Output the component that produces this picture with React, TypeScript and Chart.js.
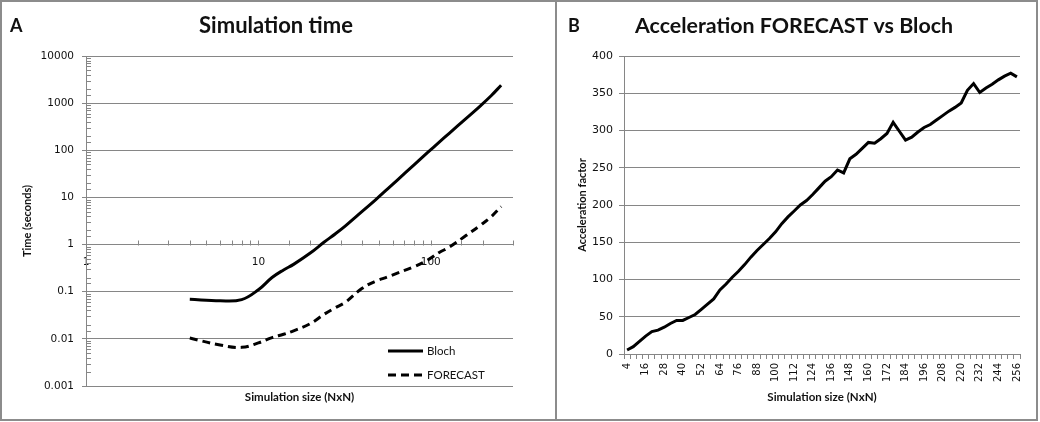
import React, { useEffect, useRef } from "react";
import { Chart, registerables } from "chart.js";

Chart.register(...registerables);

// ---------------- data ----------------
const simSizes = [4, 6, 8, 10, 12, 14, 16, 20, 24, 28, 32, 40, 48, 56, 64, 80, 96, 112, 128, 160, 192, 224, 256];
const blochSeconds = [0.069, 0.064, 0.068, 0.11, 0.2, 0.29, 0.38, 0.66, 1.12, 1.7, 2.5, 5.05, 9.0, 15, 23.4, 49, 90, 149, 229, 471, 848, 1436, 2400];
const forecastSeconds = [0.0104, 0.0074, 0.0066, 0.0082, 0.0106, 0.0125, 0.0148, 0.021, 0.033, 0.046, 0.06, 0.118, 0.168, 0.205, 0.248, 0.34, 0.47, 0.68, 0.88, 1.55, 2.5, 3.9, 6.4];
const timeTickLabels = ["0.001", "0.01", "0.1", "1", "10", "100", "1000", "10000"];
const sizeTickLabels = ["1", "10", "100"];

const accelSizes = [
  "4", "8", "12", "16", "20", "24", "28", "32", "36", "40", "44", "48", "52", "56", "60", "64",
  "68", "72", "76", "80", "84", "88", "92", "96", "100", "104", "108", "112", "116", "120", "124", "128",
  "132", "136", "140", "144", "148", "152", "156", "160", "164", "168", "172", "176", "180", "184", "188", "192",
  "196", "200", "204", "208", "212", "216", "220", "224", "228", "232", "236", "240", "244", "248", "252", "256",
];
const accelFactor = [
  5.4, 9.8, 17, 24, 30, 32, 36, 41, 45, 45, 49, 53, 60, 67, 74, 86,
  94, 103, 111, 120, 130, 139, 147, 155, 164, 175, 184, 192, 200, 206, 214, 223,
  232, 238, 247, 243, 262, 268, 276, 284, 283, 289, 296, 311, 299, 287, 291, 298,
  304, 308, 314, 320, 326, 331, 337, 354, 363, 351, 357, 362, 368, 373, 377, 372,
];

// ---------------- styles ----------------
const GRID = "#868686";
const TEXT = "#111";
const TITLE_FONT = "Lato, 'Open Sans', sans-serif";
const TICK_FONT = "'DejaVu Sans', Verdana, sans-serif";

function labelFor(list: string[], v: number): string {
  for (const s of list) {
    const n = Number(s);
    if (Math.abs(n - v) <= n * 1e-6) return s;
  }
  return "";
}

function drawText(
  ctx: CanvasRenderingContext2D,
  text: string,
  x: number,
  y: number,
  font: string,
  align: CanvasTextAlign = "center",
  rot = 0,
  baseline: CanvasTextBaseline = "middle"
) {
  ctx.save();
  ctx.translate(x, y);
  if (rot) ctx.rotate(rot);
  ctx.font = font;
  ctx.fillStyle = TEXT;
  ctx.textAlign = align;
  ctx.textBaseline = baseline;
  ctx.fillText(text, 0, 0);
  ctx.restore();
}

const leftDecor = {
  id: "leftDecor",
  afterDraw(chart: any) {
    const { ctx, chartArea: ca, scales } = chart;
    const xs = scales.x, ys = scales.y;
    ctx.save();
    ctx.strokeStyle = GRID;
    ctx.lineWidth = 1;
    // minor ticks on y (inside)
    ys.ticks.forEach((t: any) => {
      if (labelFor(timeTickLabels, t.value)) return;
      const py = Math.round(ys.getPixelForValue(t.value)) + 0.5;
      ctx.beginPath();
      ctx.moveTo(ca.left, py);
      ctx.lineTo(ca.left + 5, py);
      ctx.stroke();
    });
    // ticks on x axis at y = 1 (pointing up)
    const y1 = Math.round(ys.getPixelForValue(1)) + 0.5;
    xs.ticks.forEach((t: any) => {
      if (t.value === xs.min) return;
      const px = Math.round(xs.getPixelForValue(t.value)) + 0.5;
      ctx.beginPath();
      ctx.moveTo(px, y1 - 5);
      ctx.lineTo(px, y1);
      ctx.stroke();
    });
    // legend
    const legendRows = [ca.bottom - 35, ca.bottom - 11];
    chart.data.datasets.forEach((ds: any, i: number) => {
      const ly = legendRows[i];
      ctx.save();
      ctx.strokeStyle = ds.borderColor;
      ctx.lineWidth = ds.borderWidth;
      ctx.setLineDash(ds.borderDash || []);
      ctx.beginPath();
      ctx.moveTo(ca.right - 125, ly);
      ctx.lineTo(ca.right - 90, ly);
      ctx.stroke();
      ctx.restore();
      drawText(ctx, ds.label, ca.right - 86, ly, `11.5px ${TITLE_FONT}`, "left");
    });
    ctx.restore();
    // texts
    drawText(ctx, "A", 10, 26, `bold 18px ${TITLE_FONT}`, "left");
    drawText(ctx, "Simulation time", 276, 33, `bold 22px ${TITLE_FONT}`, "center", 0, "alphabetic");
    drawText(ctx, "Time (seconds)", 27, (ca.top + ca.bottom) / 2, `bold 11px ${TITLE_FONT}`, "center", -Math.PI / 2);
    drawText(ctx, "Simulation size (NxN)", (ca.left + ca.right) / 2, 397, `bold 11.5px ${TITLE_FONT}`);
  },
};

const rightDecor = {
  id: "rightDecor",
  afterDraw(chart: any) {
    const { ctx, chartArea: ca } = chart;
    drawText(ctx, "B", 12, 26, `bold 18px ${TITLE_FONT}`, "left");
    drawText(ctx, "Acceleration FORECAST vs Bloch", 238, 33, `bold 21.4px ${TITLE_FONT}`, "center", 0, "alphabetic");
    drawText(ctx, "Acceleration factor", 26, (ca.top + ca.bottom) / 2, `bold 11px ${TITLE_FONT}`, "center", -Math.PI / 2);
    drawText(ctx, "Simulation size (NxN)", (ca.left + ca.right) / 2, 397, `bold 11.5px ${TITLE_FONT}`);
  },
};

function LeftChart() {
  const ref = useRef<HTMLCanvasElement>(null);
  useEffect(() => {
    const chart = new Chart(ref.current!, {
      type: "line",
      data: {
        datasets: [
          {
            label: "Bloch",
            data: simSizes.map((n, i) => ({ x: n, y: blochSeconds[i] })),
            borderColor: "#000",
            borderWidth: 3,
            pointRadius: 0,
            tension: 0.4,
            fill: false,
          },
          {
            label: "FORECAST",
            data: simSizes.map((n, i) => ({ x: n, y: forecastSeconds[i] })),
            borderColor: "#000",
            borderWidth: 3,
            borderDash: [8, 5],
            pointRadius: 0,
            tension: 0.4,
            fill: false,
          },
        ],
      },
      options: {
        responsive: false,
        animation: false,
        layout: { padding: { left: 26, right: 43, top: 56, bottom: 36 } },
        plugins: { legend: { display: false }, title: { display: false }, tooltip: { enabled: false } },
        scales: {
          x: {
            type: "logarithmic",
            position: { y: 1 } as any,
            min: 1,
            max: 300,
            grid: { display: true, drawOnChartArea: false, drawTicks: false, color: GRID },
            border: { display: true, color: GRID, width: 1 },
            ticks: {
              autoSkip: false,
              maxRotation: 0,
              padding: 11,
              color: TEXT,
              font: { family: TICK_FONT, size: 10.5 },
              callback: (v: any) => labelFor(sizeTickLabels, Number(v)),
            },
            afterFit: (s: any) => { s.height = 0; },
          },
          y: {
            type: "logarithmic",
            min: 0.001,
            max: 10000,
            grid: {
              color: (c: any) => (c.tick && labelFor(timeTickLabels, c.tick.value) ? GRID : "rgba(0,0,0,0)"),
              tickLength: 4,
            },
            border: { display: true, color: GRID, width: 1 },
            ticks: {
              autoSkip: false,
              padding: 8,
              color: TEXT,
              font: { family: TICK_FONT, size: 10.5 },
              callback: (v: any) => labelFor(timeTickLabels, Number(v)),
            },
            afterFit: (s: any) => { s.width = 60; },
          },
        },
      },
      plugins: [leftDecor],
    });
    return () => chart.destroy();
  }, []);
  return <canvas ref={ref} width={556} height={422} style={{ position: "absolute", left: 0, top: 0 }} />;
}

function RightChart() {
  const ref = useRef<HTMLCanvasElement>(null);
  useEffect(() => {
    const chart = new Chart(ref.current!, {
      type: "line",
      data: {
        labels: accelSizes,
        datasets: [
          {
            label: "Acceleration",
            data: accelFactor,
            borderColor: "#000",
            borderWidth: 3,
            pointRadius: 0,
            tension: 0,
            fill: false,
          },
        ],
      },
      options: {
        responsive: false,
        animation: false,
        layout: { padding: { left: 28, right: 20, top: 56, bottom: 38 } },
        plugins: { legend: { display: false }, title: { display: false }, tooltip: { enabled: false } },
        scales: {
          x: {
            type: "category",
            offset: true,
            grid: { display: true, offset: true, drawOnChartArea: false, tickLength: 5, color: GRID },
            border: { display: true, color: GRID, width: 1 },
            ticks: {
              autoSkip: false,
              minRotation: 90,
              maxRotation: 90,
              padding: 4,
              color: TEXT,
              font: { family: TICK_FONT, size: 10 },
              callback: function (this: any, v: any, i: number) {
                return i % 3 === 0 ? this.getLabelForValue(v) : "";
              },
            },
            afterFit: (s: any) => { s.height = 30; },
          },
          y: {
            min: 0,
            max: 400,
            grid: { color: GRID, tickLength: 5 },
            border: { display: true, color: GRID, width: 1 },
            ticks: {
              stepSize: 50,
              padding: 6,
              color: TEXT,
              font: { family: TICK_FONT, size: 11 },
            },
            afterFit: (s: any) => { s.width = 40; },
          },
        },
      },
      plugins: [rightDecor],
    });
    return () => chart.destroy();
  }, []);
  return <canvas ref={ref} width={484} height={422} style={{ position: "absolute", left: 556, top: 0 }} />;
}

export default function App() {
  useEffect(() => {
    document.body.style.margin = "0";
  }, []);
  const frame = (left: number, width: number): React.CSSProperties => ({
    position: "absolute",
    left,
    top: 0,
    width,
    height: 421,
    boxSizing: "border-box",
    border: "2px solid #8c8c8c",
    pointerEvents: "none",
  });
  return (
    <div style={{ position: "relative", width: 1040, height: 422, background: "#fff", overflow: "hidden" }}>
      <LeftChart />
      <RightChart />
      <div style={frame(0, 557)} />
      <div style={frame(555, 483)} />
    </div>
  );
}
